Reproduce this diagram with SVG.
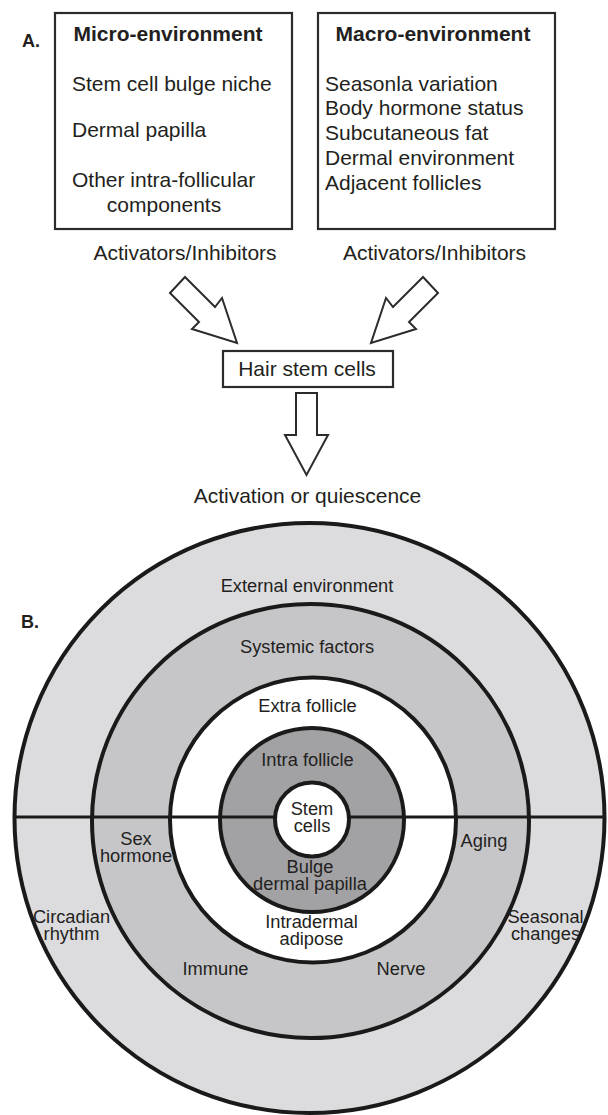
<svg xmlns="http://www.w3.org/2000/svg" width="608" height="1115" viewBox="0 0 608 1115">
  <style>
    text { font-family: "Liberation Sans", Arial, Helvetica, sans-serif; fill: #231f20; }
    .t21 { font-size: 21px; }
    .b21 { font-size: 21px; font-weight: bold; }
    .c18 { font-size: 18.3px; text-anchor: middle; }
    .mid { text-anchor: middle; }
    .box { fill: #ffffff; stroke: #2b2b2b; stroke-width: 2.2; }
    .arrow { fill: #ffffff; stroke: #2b2b2b; stroke-width: 2; stroke-linejoin: miter; }
    .ring { stroke: #1a1a1a; stroke-width: 4; }
  </style>
  <rect width="608" height="1115" fill="#ffffff"/>

  <!-- Panel A -->
  <text id="label-a" x="22" y="47" class="b21" style="font-size:18px">A.</text>

  <g id="micro-environment">
    <rect class="box" x="55" y="13" width="237" height="216"/>
    <text x="168" y="41" class="b21 mid">Micro-environment</text>
    <text x="72" y="90.5" class="t21">Stem cell bulge niche</text>
    <text x="72" y="137" class="t21">Dermal papilla</text>
    <text x="72" y="187" class="t21">Other intra-follicular</text>
    <text x="164" y="212" class="t21 mid">components</text>
  </g>

  <g id="macro-environment">
    <rect class="box" x="318" y="13" width="237" height="216"/>
    <text x="433" y="41" class="b21 mid">Macro-environment</text>
    <text x="325" y="90.5" class="t21">Seasonla variation</text>
    <text x="325" y="115" class="t21">Body hormone status</text>
    <text x="325" y="140" class="t21">Subcutaneous fat</text>
    <text x="325" y="165" class="t21">Dermal environment</text>
    <text x="325" y="190" class="t21">Adjacent follicles</text>
  </g>

  <g id="label-activators-left">
    <text x="185" y="260" class="t21 mid">Activators/Inhibitors</text>
  </g>
  <g id="label-activators-right">
    <text x="434.5" y="260" class="t21 mid">Activators/Inhibitors</text>
  </g>

  <g id="hair-stem-cells">
    <rect class="box" x="223" y="351" width="170" height="36"/>
    <text x="307" y="375.5" class="t21 mid">Hair stem cells</text>
  </g>

  <g id="activation-or-quiescence">
    <text x="307.5" y="503" class="t21 mid">Activation or quiescence</text>
  </g>

  <g id="connectors">
    <polygon class="arrow" points="185,277 215,307 222,298 237,343 192,329 199,322 170,293"/>
    <polygon class="arrow" points="423,277 393,307 386,298 371,343 416,329 409,322 438,293"/>
    <polygon class="arrow" points="296,393 317,393 317,435 328,435 306.5,475 285,435 296,435"/>
  </g>

  <!-- Panel B -->
  <g id="panel-b">
    <g id="external-environment">
      <ellipse class="ring" cx="309.5" cy="818" rx="295" ry="295" fill="#dcdcde"/>
    </g>
    <g id="systemic-factors">
      <ellipse class="ring" cx="310.5" cy="821" rx="218.5" ry="217" fill="#c6c6c8"/>
    </g>
    <g id="extra-follicle">
      <ellipse class="ring" cx="313" cy="820" rx="143" ry="142.5" fill="#ffffff"/>
    </g>
    <g id="intra-follicle">
      <ellipse class="ring" cx="312" cy="820" rx="92" ry="92" fill="#a2a2a4"/>
    </g>
    <line x1="13" y1="817" x2="606" y2="817" stroke="#1a1a1a" stroke-width="3"/>
    <g id="stem-cells">
      <circle class="ring" cx="312" cy="819.5" r="37" fill="#ffffff"/>
      <text x="312" y="815" class="c18">Stem</text>
      <text x="312" y="832" class="c18">cells</text>
    </g>

    <text id="label-b" x="21" y="628" class="b21" style="font-size:18px">B.</text>

    <text x="307" y="592" class="c18">External environment</text>
    <text x="307" y="653" class="c18">Systemic factors</text>
    <text x="307.5" y="712" class="c18">Extra follicle</text>
    <text x="307.5" y="766" class="c18">Intra follicle</text>
    <text x="310" y="873" class="c18">Bulge</text>
    <text x="310" y="890" class="c18">dermal papilla</text>
    <text x="311.5" y="928" class="c18">Intradermal</text>
    <text x="311.5" y="945" class="c18">adipose</text>
    <text x="136" y="845" class="c18">Sex</text>
    <text x="136" y="862" class="c18">hormone</text>
    <text x="484" y="847" class="c18">Aging</text>
    <text x="71.5" y="923" class="c18">Circadian</text>
    <text x="71.5" y="940" class="c18">rhythm</text>
    <text x="545.5" y="923" class="c18">Seasonal</text>
    <text x="545.5" y="940" class="c18">changes</text>
    <text x="215.5" y="975" class="c18">Immune</text>
    <text x="401" y="975" class="c18">Nerve</text>
  </g>
</svg>
